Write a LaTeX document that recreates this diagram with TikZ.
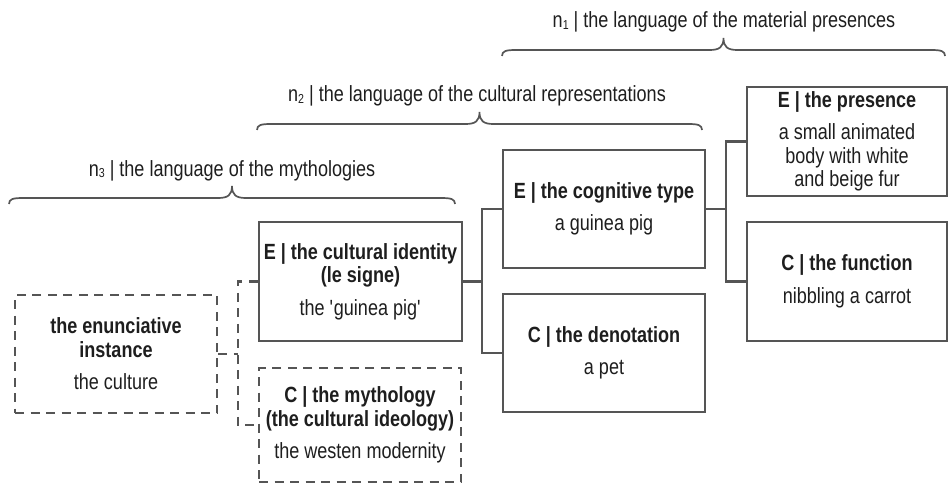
\documentclass[tikz,border=0pt]{standalone}
\usepackage{fontspec}
\setmainfont{Liberation Sans}[FakeStretch=0.82]
\usetikzlibrary{calc}
\definecolor{lc}{HTML}{555555}
\definecolor{tc}{HTML}{1E1E1E}
\newcommand\hbrace[3]{%
 \draw[brc] ({#1},{#3+6}) .. controls ({#1},{#3+1}) and ({#1+4},{#3}) .. ({#1+14},{#3})
   -- ({(#1+#2)/2-14},{#3}) .. controls ({(#1+#2)/2-4},{#3}) and ({(#1+#2)/2},{#3-3}) .. ({(#1+#2)/2},{#3-12})
   .. controls ({(#1+#2)/2},{#3-3}) and ({(#1+#2)/2+4},{#3}) .. ({(#1+#2)/2+14},{#3})
   -- ({#2-14},{#3}) .. controls ({#2-4},{#3}) and ({#2},{#3+1}) .. ({#2},{#3+6});}
\newcommand\sbs[1]{\raisebox{-1.5pt}{\fontsize{13}{13}\selectfont #1}}
\begin{document}
\begin{tikzpicture}[x=1pt,y=-1pt,
  box/.style={draw=lc,line width=2.6pt,align=center,inner sep=0pt,text=tc,font=\fontsize{22}{23.5}\selectfont},
  dbox/.style={box,dash pattern=on 9pt off 6.5pt},
  link/.style={draw=lc,line width=2.6pt},
  dlink/.style={link,dash pattern=on 9pt off 6.5pt},
  brc/.style={draw=lc,line width=1.7pt},
  lab/.style={text=tc,font=\fontsize{22}{23.5}\selectfont,inner sep=0pt,anchor=base}]
\useasboundingbox (0,0) rectangle (949,484);

% labels and braces
\node[lab] (l1) at (724,28) {n\sbs{1} | the language of the material presences};
\node[lab] (l2) at (477,102) {n\sbs{2} | the language of the cultural representations};
\node[lab] (l3) at (232,176) {n\sbs{3} | the language of the mythologies};
\hbrace{502}{945}{50}
\hbrace{257}{702}{124}
\hbrace{9}{455}{198}

% boxes
\node[dbox,minimum width=202pt,minimum height=118pt] (enun) at (116,354)
  {\textbf{the enunciative}\\\textbf{instance}\\[9pt]the culture};
\node[box,minimum width=203pt,minimum height=119pt] (ident) at (360.5,281.5)
  {\textbf{E | the cultural identity}\\\textbf{(le signe)}\\[9pt]the \textquotesingle guinea pig\textquotesingle};
\node[dbox,minimum width=202pt,minimum height=114pt] (myth) at (360,425)
  {\textbf{C | the mythology}\\\textbf{(the cultural ideology)}\\[9pt]the westen modernity};
\node[box,minimum width=202pt,minimum height=118pt] (cog) at (604,209)
  {\textbf{E | the cognitive type}\\[9pt]a guinea pig};
\node[box,minimum width=202pt,minimum height=118pt] (deno) at (604,353)
  {\textbf{C | the denotation}\\[9pt]a pet};
\node[box,minimum width=200pt,minimum height=109pt] (pres) at (847,141.5)
  {\textbf{E | the presence}\\[9pt]a small animated\\body with white\\and beige fur};
\node[box,minimum width=200pt,minimum height=119pt] (func) at (847,281.5)
  {\textbf{C | the function}\\[9pt]nibbling a carrot};

% connectors
\coordinate (j1) at (482,281.5);
\coordinate (j2) at (726,209);
\coordinate (j3) at (238,354);
\draw[link] (ident.east) -- (j1);
\draw[link] (cog.west) -| (j1) |- (deno.west);
\draw[link] (cog.east) -- (j2);
\draw[link] (pres.west) -| (j2) |- (func.west);
\draw[dlink] (enun.east) -- (j3);
\draw[dlink] (ident.west) -| (j3) |- (myth.west);
\end{tikzpicture}
\end{document}
